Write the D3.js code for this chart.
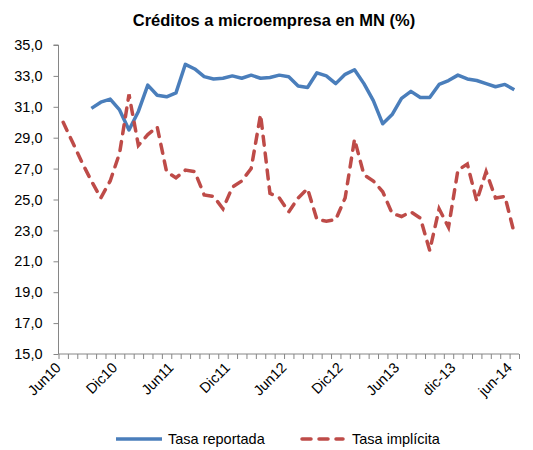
<!DOCTYPE html>
<html>
<head>
<meta charset="utf-8">
<script src="https://cdn.jsdelivr.net/npm/d3@7"></script>
<style>
  body { margin: 0; background: #fff; }
  text { font-family: "Liberation Sans", Arial, sans-serif; fill: #000; }
</style>
</head>
<body>
<div id="chart"></div>
<script>
// monthly, jun-2010 .. jun-2014 (49 months)
var tickLabels = ["Jun10", "Dic10", "Jun11", "Dic11", "Jun12", "Dic12", "Jun13", "dic-13", "jun-14"]
var tickIndex = [0, 6, 12, 18, 24, 30, 36, 42, 48]

var tasaReportada = [null, null, null, 30.9, 31.3, 31.5, 30.8, 29.5, 30.7, 32.4,
  31.75, 31.65, 31.9, 33.75, 33.45, 32.95, 32.8, 32.85, 33.0, 32.85,
  33.05, 32.85, 32.9, 33.05, 32.95, 32.35, 32.25, 33.2, 33.0, 32.5,
  33.1, 33.4, 32.5, 31.4, 29.9, 30.5, 31.55, 32.0, 31.6, 31.6,
  32.45, 32.7, 33.05, 32.8, 32.7, 32.5, 32.3, 32.45, 32.1]

var tasaImplicita = [30.0, 28.7, 27.4, 26.2, 25.1, 26.2, 28.0, 31.8, 28.5, 29.2,
  29.7, 26.8, 26.4, 26.9, 26.8, 25.3, 25.2, 24.4, 25.8, 26.2,
  27.0, 30.5, 25.4, 25.1, 24.2, 25.1, 25.7, 23.7, 23.6, 23.7,
  25.1, 28.9, 26.6, 26.2, 25.5, 24.1, 23.9, 24.2, 23.8, 21.7,
  24.4, 23.2, 26.9, 27.3, 24.9, 26.8, 25.1, 25.2, 22.8]

var yTicks = [15, 17, 19, 21, 23, 25, 27, 29, 31, 33, 35]

var blue = "#4A7EBB"
var red = "#BE4B48"
var grey = "#868686"

var svg = d3.select("#chart")
  .append("svg")
  .attr("width", 533)
  .attr("height", 450)

var n = tasaImplicita.length
var x = d3.scaleLinear()
  .domain([-0.5, n - 0.5])
  .range([58.5, 519])

var y = d3.scaleLinear()
  .domain([15, 35])
  .range([354, 45])

// title
svg.append("text")
  .attr("x", 274)
  .attr("y", 26)
  .attr("text-anchor", "middle")
  .style("font-size", "16.5px")
  .style("font-weight", "bold")
  .text("Créditos a microempresa en MN (%)")

// y axis
var yAxis = svg.append("g")
  .attr("transform", "translate(58.5,0)")
  .call(d3.axisLeft(y).tickValues(yTicks).tickSize(5).tickPadding(11)
    .tickFormat(d => d3.format(".1f")(d).replace(".", ",")))
yAxis.selectAll("text").style("font-size", "14.5px").attr("fill", "#000")
yAxis.selectAll("line, path").attr("stroke", grey)
yAxis.select(".domain").attr("d", "M-5," + y(35) + "H0V" + y(15))

// x axis, ticks between months
var boundaries = d3.range(n + 1).map(i => i - 0.5)
var xAxis = svg.append("g")
  .attr("transform", "translate(0," + y(15) + ")")
  .call(d3.axisBottom(x).tickValues(boundaries).tickSize(5).tickFormat(""))
xAxis.selectAll("line, path").attr("stroke", grey)
xAxis.select(".domain").attr("d", "M" + x(-0.5) + ",0H" + x(n - 0.5))

svg.append("g")
  .selectAll("text")
  .data(tickLabels)
  .join("text")
  .attr("transform", (d, i) => "translate(" + (x(tickIndex[i]) - 5) + "," + (y(15) + 11) + ") rotate(-45)")
  .attr("text-anchor", "end")
  .attr("dy", "0.35em")
  .style("font-size", "14.5px")
  .text(d => d)

// lines
var line = d3.line()
  .defined(d => d != null)
  .x((d, i) => x(i))
  .y(d => y(d))

svg.append("path")
  .attr("d", line(tasaReportada))
  .attr("fill", "none")
  .attr("stroke", blue)
  .attr("stroke-width", 3.5)
  .attr("stroke-linejoin", "round")

svg.append("path")
  .attr("d", line(tasaImplicita))
  .attr("fill", "none")
  .attr("stroke", red)
  .attr("stroke-width", 3.5)
  .attr("stroke-linecap", "round")
  .attr("stroke-dasharray", "9,8")

// legend
var legend = svg.append("g")
legend.append("line")
  .attr("x1", 116).attr("x2", 162).attr("y1", 439).attr("y2", 439)
  .attr("stroke", blue).attr("stroke-width", 3.5)
legend.append("text")
  .attr("x", 168).attr("y", 444)
  .style("font-size", "14.5px")
  .text("Tasa reportada")
legend.append("line")
  .attr("x1", 302).attr("x2", 343).attr("y1", 439).attr("y2", 439)
  .attr("stroke", red).attr("stroke-width", 3.5)
  .attr("stroke-linecap", "round")
  .attr("stroke-dasharray", "9,8")
legend.append("text")
  .attr("x", 352).attr("y", 444)
  .style("font-size", "14.5px")
  .text("Tasa implícita")
</script>
</body>
</html>
